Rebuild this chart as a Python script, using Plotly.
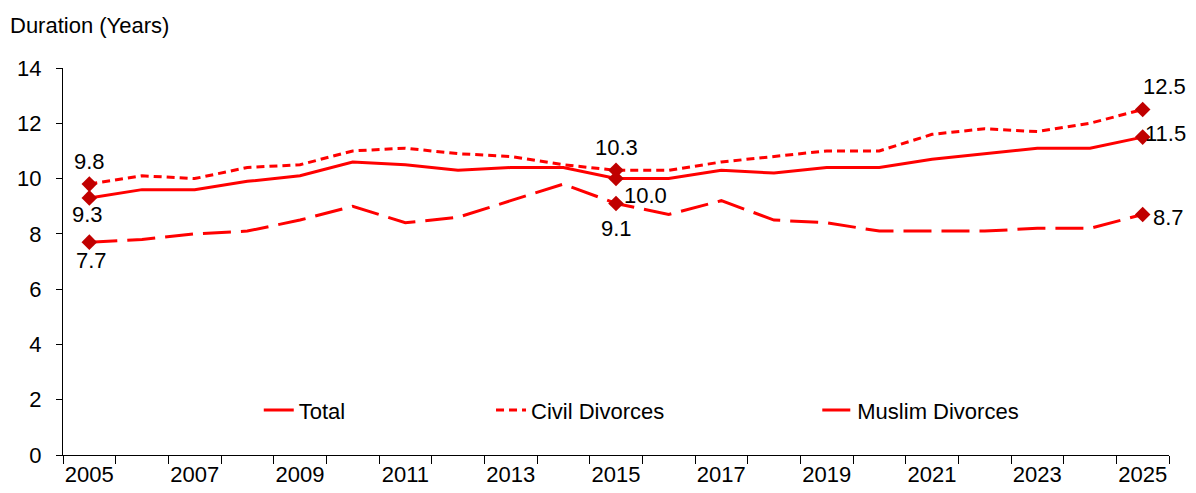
import plotly.graph_objects as go

years = list(range(2005, 2026))
total = [9.3, 9.6, 9.6, 9.9, 10.1, 10.6, 10.5, 10.3, 10.4, 10.4, 10.0,
         10.0, 10.3, 10.2, 10.4, 10.4, 10.7, 10.9, 11.1, 11.1, 11.5]
civil = [9.8, 10.1, 10.0, 10.4, 10.5, 11.0, 11.1, 10.9, 10.8, 10.5, 10.3,
         10.3, 10.6, 10.8, 11.0, 11.0, 11.6, 11.8, 11.7, 12.0, 12.5]
muslim = [7.7, 7.8, 8.0, 8.1, 8.5, 9.0, 8.4, 8.6, 9.2, 9.8, 9.1,
          8.7, 9.2, 8.5, 8.4, 8.1, 8.1, 8.1, 8.2, 8.2, 8.7]
label_years = [2005, 2015, 2025]
tick_years = list(range(2005, 2026, 2))

FONT = "Liberation Sans, Arial, sans-serif"
FS = 22
LINE = "#FF0000"
MARK = "#C00000"

# label placement for 2005, 2015, 2025: (xanchor, xshift, yshift)
series = [
    ("Total", total, "solid", "legend",
     [("center", -2, -17), ("left", 6, -17), ("left", 0, 4)]),
    ("Civil Divorces", civil, "8px,5px", "legend2",
     [("center", 0, 23), ("center", 0, 23), ("left", -2, 23)]),
    ("Muslim Divorces", muslim, "28px,10px", "legend3",
     [("center", 2, -18), ("center", 0, -25), ("left", 8, -3)]),
]

fig = go.Figure()
notes = []
for name, vals, dash, leg, spots in series:
    fig.add_trace(go.Scatter(
        x=years, y=vals, mode="lines", name=name, legend=leg,
        line=dict(color=LINE, width=3, dash=dash)))
    ly = [vals[years.index(y)] for y in label_years]
    fig.add_trace(go.Scatter(
        x=label_years, y=ly, mode="markers", showlegend=False,
        marker=dict(symbol="diamond", size=12, color=MARK),
        cliponaxis=False, hoverinfo="skip"))
    for yr, v, (xa, dx, dy) in zip(label_years, ly, spots):
        notes.append(dict(
            x=yr, y=v, text=f"{v:.1f}", showarrow=False,
            xanchor=xa, yanchor="middle", xshift=dx, yshift=dy,
            font=dict(family=FONT, size=FS, color="black")))

notes.append(dict(
    text="Duration (Years)", xref="paper", yref="paper",
    x=-0.050, y=1.111, xanchor="left", yanchor="middle",
    showarrow=False, font=dict(family=FONT, size=FS)))

leg_common = dict(orientation="h", yanchor="middle", y=0.116, xanchor="left",
                  bgcolor="rgba(0,0,0,0)",
                  font=dict(family=FONT, size=FS, color="black"))

# the page body adds an 8px margin, so the figure is 8px smaller
fig.update_layout(
    width=1188, height=485,
    margin=dict(l=55, r=27, t=60, b=38),
    plot_bgcolor="white", paper_bgcolor="white",
    font=dict(family=FONT, size=FS, color="black"),
    legend=dict(x=0.177, **leg_common),
    legend2=dict(x=0.387, **leg_common),
    legend3=dict(x=0.682, **leg_common),
    xaxis=dict(
        range=[2004.5, 2025.5], tickvals=tick_years,
        ticktext=[str(y) for y in tick_years], ticks="",
        showline=True, linecolor="black", linewidth=1,
        showgrid=False, zeroline=False, automargin=False,
        minor=dict(tick0=2004.5, dtick=1, ticks="outside", ticklen=8,
                   tickcolor="black", showgrid=False),
        tickfont=dict(family=FONT, size=FS)),
    yaxis=dict(
        range=[0, 14], dtick=2, ticks="outside", ticklen=6,
        tickcolor="black", showline=True, linecolor="black", linewidth=1,
        showgrid=False, zeroline=False, automargin=False,
        ticklabelstandoff=10,
        tickfont=dict(family=FONT, size=FS)),
    annotations=notes,
)

fig.write_html("out.html")
